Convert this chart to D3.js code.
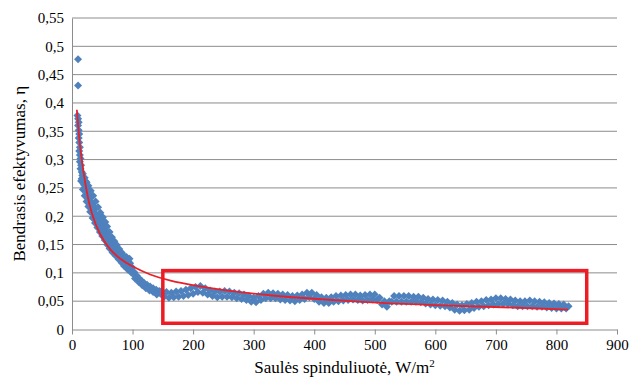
<!DOCTYPE html>
<html>
<head>
<meta charset="utf-8">
<script src="https://cdn.jsdelivr.net/npm/d3@7.9.0/dist/d3.min.js"></script>
<style>
  body { margin: 0; background: #fff; }
  svg text { font-family: "Liberation Serif", Tinos, "Times New Roman", Times, "Nimbus Roman", "Noto Serif", "DejaVu Serif", FreeSerif, serif !important; }
</style>
</head>
<body>
<div id="chart"></div>
<script>
// measured points (irradiance W/m2, efficiency)
const earlyPoints = [
  [10,0.477],[10,0.431],
  [9,0.378],[10,0.372],[11,0.366],[10,0.36],[11,0.352],[12,0.345],[11,0.338],[12,0.33],
  [13,0.322],[12,0.315],[13,0.308],[14,0.302],[13,0.296],[15,0.29],[14,0.284],[16,0.278],
  [17,0.272],[16,0.266],[18,0.262],[19,0.258],[20,0.255],[22,0.262],[21,0.25],[23,0.246],
  [25,0.252],[24,0.24],[26,0.236],[28,0.243],[27,0.23],[29,0.226],[31,0.233],[30,0.22],
  [33,0.224],[32,0.214],[35,0.218],[34,0.207],[37,0.212],[36,0.2],[39,0.205],[40,0.196],
  [42,0.2],[43,0.19],[45,0.194],[46,0.184],[48,0.188],[49,0.178],[51,0.182],[52,0.172],
  [54,0.176],[55,0.166],[57,0.17],[58,0.16],[60,0.163],[61,0.153],[63,0.156],[64,0.147],
  [66,0.15],[67,0.142],[70,0.145],[71,0.137],[74,0.139],[75,0.132],[78,0.133],[79,0.127],
  [82,0.128],[84,0.122],[87,0.123],[88,0.117],[90,0.123],[91,0.115],[93,0.12],[94,0.112],
  [96,0.117],[97,0.108],[99,0.11],[101,0.101],[103,0.101],[105,0.094],[107,0.095],[109,0.089],
  [111,0.09],[113,0.085],[115,0.086],[117,0.081],[119,0.082],[121,0.077],[124,0.079],[126,0.074],
  [129,0.076],[131,0.071],[134,0.073],[136,0.068],[139,0.07],[141,0.065],[144,0.068],[146,0.063],
  // outer edge of the cloud
  [18,0.275],[21,0.268],[24,0.26],[27,0.254],[31,0.245],[35,0.236],[39,0.226],[43,0.216],
  [47,0.206],[51,0.198],[55,0.19],[58,0.182],[62,0.172],[66,0.163],[70,0.156],[74,0.149],
  [78,0.142],[82,0.136],[86,0.13],[90,0.128],[95,0.125],
  // inner edge of the cloud
  [15,0.262],[18,0.247],[21,0.236],[24,0.226],[27,0.217],[30,0.208],[34,0.197],[38,0.188],
  [42,0.18],[46,0.172],[50,0.165],[54,0.158],[58,0.15],[62,0.143],[67,0.136],[72,0.13],
  [77,0.124],[82,0.118],[86,0.112],[92,0.106],[98,0.1],[104,0.09],[110,0.084],[116,0.078],
  [122,0.073],[128,0.069],[134,0.066],[140,0.062]
];

const flatPoints = [
  [148,0.068],[152,0.058],[156,0.066],[160,0.056],[164,0.065],[168,0.057],[172,0.067],[176,0.058],
  [180,0.068],[184,0.059],[188,0.070],[192,0.061],[196,0.073],[200,0.063],[204,0.075],[208,0.066],
  [212,0.077],[216,0.065],[220,0.073],[224,0.062],[228,0.069],[232,0.059],[236,0.067],[240,0.057],
  [244,0.067],[248,0.058],[252,0.068],[256,0.058],[260,0.067],[264,0.057],[268,0.065],[272,0.055],
  [276,0.064],[280,0.054],[284,0.062],[288,0.052],[292,0.059],[296,0.049],[300,0.056],[304,0.048],
  [308,0.059],[312,0.052],[316,0.063],[320,0.055],[324,0.065],[328,0.055],[332,0.064],[336,0.055],
  [340,0.063],[344,0.053],[348,0.062],[352,0.052],[356,0.061],[360,0.051],[364,0.059],[368,0.050],
  [372,0.060],[376,0.052],[380,0.062],[384,0.054],[388,0.065],[392,0.057],[396,0.065],[400,0.054],
  [404,0.061],[408,0.049],[412,0.057],[416,0.047],[420,0.056],[424,0.047],[428,0.057],[432,0.049],
  [436,0.059],[440,0.050],[444,0.060],[448,0.051],[452,0.061],[456,0.052],[460,0.062],[464,0.053],
  [468,0.062],[472,0.052],[476,0.060],[480,0.051],[484,0.061],[488,0.052],[492,0.062],[496,0.053],
  [500,0.062],[504,0.052],[508,0.056],[512,0.044],[516,0.050],[520,0.040],[524,0.050],[528,0.049],
  [532,0.059],[536,0.049],[540,0.059],[544,0.049],[548,0.059],[552,0.049],[556,0.059],[560,0.049],
  [564,0.058],[568,0.049],[572,0.058],[576,0.048],[580,0.056],[584,0.046],[588,0.054],[592,0.044],
  [596,0.053],[600,0.043],[604,0.052],[608,0.042],[612,0.051],[616,0.041],[620,0.049],[624,0.039],
  [628,0.047],[632,0.035],[636,0.044],[640,0.033],[644,0.043],[648,0.034],[652,0.045],[656,0.035],
  [660,0.047],[664,0.038],[668,0.049],[672,0.040],[676,0.050],[680,0.041],[684,0.052],[688,0.043],
  [692,0.053],[696,0.044],[700,0.055],[704,0.045],[708,0.055],[712,0.045],[716,0.054],[720,0.045],
  [724,0.053],[728,0.043],[732,0.051],[736,0.041],[740,0.050],[744,0.041],[748,0.050],[752,0.041],
  [756,0.051],[760,0.041],[764,0.050],[768,0.040],[772,0.049],[776,0.040],[780,0.048],[784,0.039],
  [788,0.047],[792,0.038],[796,0.046],[800,0.037],[804,0.045],[808,0.037],[812,0.044],[816,0.037],
  [820,0.041]
];

// red trend line
const trendPoints = [
  [8,0.388],[12,0.335],[16,0.299],[24,0.243],[32,0.205],[45,0.168],[63,0.140],[80,0.124],
  [96,0.113],[129,0.096],[162,0.086],[200,0.078],[250,0.069],[327,0.060],[400,0.054],
  [505,0.047],[600,0.043],[690,0.040],[750,0.038],[819,0.035]
];

// highlighted region [x0, x1, y0, y1]
const highlight = [150, 850, 0.011, 0.104];

const xTicks = [0,100,200,300,400,500,600,700,800,900];
const yTicks = [0,0.05,0.1,0.15,0.2,0.25,0.3,0.35,0.4,0.45,0.5,0.55];

const W = 642, H = 381;
const margin = { top: 18, right: 25, bottom: 51.5, left: 72 };

const svg = d3.select("#chart").append("svg")
  .attr("width", W).attr("height", H);

const x = d3.scaleLinear().domain([0, 900]).range([margin.left, W - margin.right]);
const y = d3.scaleLinear().domain([0, 0.55]).range([H - margin.bottom, margin.top]);

const fmt = d => String(+d.toFixed(2)).replace(".", ",");

// gridlines
svg.append("g")
  .selectAll("line")
  .data(yTicks.slice(1))
  .join("line")
  .attr("x1", x(0)).attr("x2", x(900))
  .attr("y1", d => y(d)).attr("y2", d => y(d))
  .attr("stroke", "#8c8c8c").attr("stroke-width", 1);

// y axis
const yAxis = svg.append("g")
  .attr("transform", `translate(${x(0)},0)`)
  .call(d3.axisLeft(y).tickValues(yTicks).tickSize(0).tickPadding(8).tickFormat(fmt));
yAxis.attr("font-family", null).attr("font-size", 15);
yAxis.select(".domain").attr("stroke", "#8c8c8c");
yAxis.selectAll("text").attr("fill", "#000");

// x axis
const xAxis = svg.append("g")
  .attr("transform", `translate(0,${y(0)})`)
  .call(d3.axisBottom(x).tickValues(xTicks).tickSize(5).tickPadding(5).tickSizeOuter(0));
xAxis.attr("font-family", null).attr("font-size", 15);
xAxis.select(".domain").attr("stroke", "#8c8c8c");
xAxis.selectAll("line").attr("stroke", "#8c8c8c");
xAxis.selectAll("text").attr("fill", "#000");

// scatter
const diamond = "M0,-4L4,0L0,4L-4,0Z";
svg.append("g")
  .selectAll("path")
  .data(earlyPoints.concat(flatPoints))
  .join("path")
  .attr("d", diamond)
  .attr("transform", d => `translate(${x(d[0])},${y(d[1])})`)
  .attr("fill", "#4f81bd");

// trend
const line = d3.line()
  .x(d => x(d[0]))
  .y(d => y(d[1]))
  .curve(d3.curveBasis);
svg.append("path")
  .datum(trendPoints)
  .attr("d", line)
  .attr("fill", "none")
  .attr("stroke", "#e8202a")
  .attr("stroke-width", 1.8);

// highlight box
svg.append("rect")
  .attr("x", x(highlight[0]))
  .attr("y", y(highlight[3]))
  .attr("width", x(highlight[1]) - x(highlight[0]))
  .attr("height", y(highlight[2]) - y(highlight[3]))
  .attr("fill", "none")
  .attr("stroke", "#ed1c24")
  .attr("stroke-width", 3.5);

// axis titles
svg.append("text")
  .attr("x", (x(0) + x(900)) / 2)
  .attr("y", 373)
  .attr("text-anchor", "middle")
  .attr("font-size", 17)
  .html('Saulės spinduliuotė, W/m<tspan dy="-6" font-size="11">2</tspan>');

svg.append("text")
  .attr("transform", `translate(25,${(y(0) + y(0.55)) / 2}) rotate(-90)`)
  .attr("text-anchor", "middle")
  .attr("font-size", 17)
  .text("Bendrasis efektyvumas, η");
</script>
</body>
</html>
